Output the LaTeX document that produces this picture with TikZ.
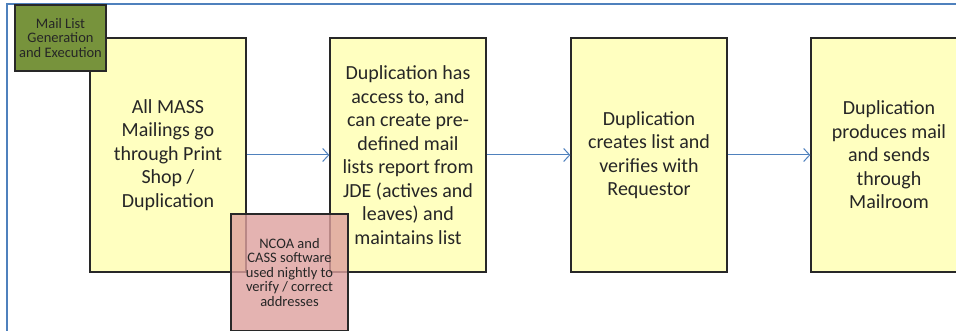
\documentclass[tikz,border=0pt]{standalone}
\usepackage{fontspec}
\setmainfont{Carlito}
\usetikzlibrary{arrows.meta}
\definecolor{frameblue}{RGB}{79,129,189}
\definecolor{boxyellow}{RGB}{255,255,192}
\definecolor{boxgreen}{RGB}{119,147,60}
\definecolor{boxpink}{RGB}{222,160,158}
\definecolor{txt}{RGB}{38,38,38}
\definecolor{edge}{RGB}{40,40,40}
\tikzset{
  stepbox/.style={draw=edge, line width=1.3pt, fill=boxyellow, minimum width=156pt, minimum height=234pt,
    inner sep=0pt, align=center, text=txt,
    font=\fontsize{20pt}{23.5pt}\selectfont},
  tagbox/.style={draw=edge, line width=1.3pt, inner sep=0pt, align=center, text=txt,
    font=\fontsize{14.5pt}{14.5pt}\selectfont},
  flow/.style={draw=frameblue, line width=1pt, -{Straight Barb[length=6pt,width=13pt,line width=1pt]}}
}
\begin{document}
\begin{tikzpicture}[x=1pt,y=-1pt]
\useasboundingbox (0,0) rectangle (956,331);
\clip (0,0) rectangle (956,331);
\fill[white] (0,0) rectangle (956,331);
% outer frame
\draw[frameblue, line width=1.3pt] (7,340) -- (7,4) -- (970,4);
% main steps
\node[stepbox] (s1) at (168,155) {All MASS\\Mailings go\\through Print\\Shop /\\Duplication};
\node[stepbox] (s2) at (408,155) {Duplication has\\access to, and\\can create pre-\\defined mail\\lists report from\\JDE (actives and\\leaves) and\\maintains list};
\node[stepbox] (s3) at (649,155) {Duplication\\creates list and\\verifies with\\Requestor};
\node[stepbox] (s4) at (889,155) {Duplication\\produces mail\\and sends\\through\\Mailroom};
% connectors
\draw[flow] (s1.east) -- (s2.west);
\draw[flow] (s2.east) -- (s3.west);
\draw[flow] (s3.east) -- (s4.west);
% green tag
\node[tagbox, fill=boxgreen, minimum width=91pt, minimum height=66pt] (tag) at (60.5,38) {Mail List\\Generation\\and Execution};
% pink note
\node[tagbox, fill=boxpink, fill opacity=0.8, text opacity=1, minimum width=117pt, minimum height=117pt] (note) at (289.5,272.5) {NCOA and\\CASS software\\used nightly to\\verify / correct\\addresses};
\end{tikzpicture}
\end{document}
